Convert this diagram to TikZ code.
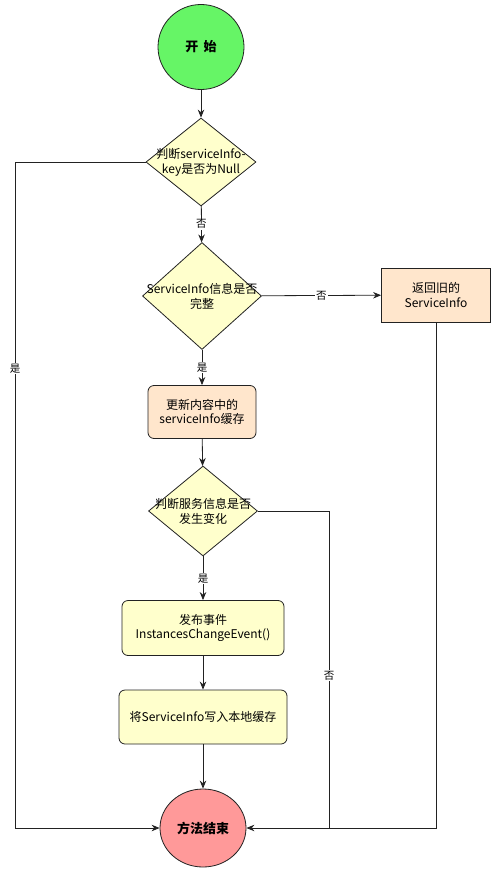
\documentclass[tikz,border=0pt]{standalone}
\usepackage{fontspec}
\setmainfont{Noto Sans CJK SC}
\usetikzlibrary{shapes.geometric,arrows.meta}
\definecolor{startg}{HTML}{66F566}
\definecolor{endp}{HTML}{FF9999}
\definecolor{ylw}{HTML}{FFFFCC}
\definecolor{peach}{HTML}{FFE6CC}
\definecolor{ln}{HTML}{222222}
\tikzset{
  base/.style={draw=ln, line width=0.8pt, font=\fontsize{12}{14.5}\selectfont, align=center, text=black},
  term/.style={base, ellipse, inner sep=0pt, font=\fontsize{13}{15}\selectfont\bfseries},
  dia/.style={base, diamond, inner sep=0pt, fill=ylw},
  dtext/.style={font=\fontsize{12}{15}\selectfont, align=center, inner sep=0pt},
  box/.style={base, rectangle, inner sep=2pt},
  rbox/.style={base, rounded corners=6pt, inner sep=2pt},
  arr/.style={draw=ln, line width=0.8pt, -{Stealth[length=8pt,width=6.5pt]}},
  con/.style={draw=ln, line width=0.8pt},
  lbl/.style={fill=white, inner sep=1pt, font=\fontsize{10.5}{12}\selectfont}
}
\begin{document}
\begin{tikzpicture}[x=1pt,y=-1pt]
\useasboundingbox (0,0) rectangle (500,875);
% nodes
\node[term, fill=startg, minimum width=86pt, minimum height=85pt] (start) at (201,47) {开\hspace{0.4em}始};
\node[dia, minimum width=110pt, minimum height=88pt] (d1) at (201,162) {};
\node[dtext] (t1) at (d1) {判断serviceInfo-\\key是否为Null};
\node[dia, minimum width=119pt, minimum height=107pt] (d2) at (202,296) {};
\node[dtext] (t2) at (d2) {ServiceInfo信息是否\\完整};
\node[box, fill=peach, minimum width=109pt, minimum height=54pt] (ret) at (436,295) {返回旧的\\ServiceInfo};
\node[rbox, fill=peach, minimum width=108pt, minimum height=53pt] (upd) at (202,412) {更新内容中的\\serviceInfo缓存};
\node[dia, minimum width=109pt, minimum height=90pt] (d3) at (203,511) {};
\node[dtext] (t3) at (d3) {判断服务信息是否\\发生变化};
\node[rbox, fill=ylw, minimum width=162pt, minimum height=55pt] (pub) at (203,628) {发布事件\\InstancesChangeEvent()};
\node[rbox, fill=ylw, minimum width=168pt, minimum height=54pt] (wr) at (203,717) {将ServiceInfo写入本地缓存};
\node[term, fill=endp, minimum width=86pt, minimum height=78pt] (end) at (203,828) {方法结束};
% helper coordinates
\coordinate (lc1) at (15,162);
\coordinate (lc2) at (15,828);
\coordinate (rc1) at (436,828);
\coordinate (mc1) at (329,511);
\coordinate (mc2) at (329,828);
% connectors
\draw[arr] (start) -- (d1);
\draw[arr] (d1) -- node[lbl]{否} (d2);
\draw[arr] (d2) -- node[lbl]{否} (ret);
\draw[arr] (d2) -- node[lbl]{是} (upd);
\draw[arr] (upd) -- (d3);
\draw[arr] (d3) -- node[lbl]{是} (pub);
\draw[arr] (pub) -- (wr);
\draw[arr] (wr) -- (end);
\draw[arr] (d1.west) -- (lc1) -- node[lbl, pos=0.31]{是} (lc2) -- (end.west);
\draw[arr] (ret.south) -- (rc1) -- (end.east);
\draw[con] (d3.east) -- (mc1) -- node[lbl, pos=0.52]{否} (mc2);
\end{tikzpicture}
\end{document}
